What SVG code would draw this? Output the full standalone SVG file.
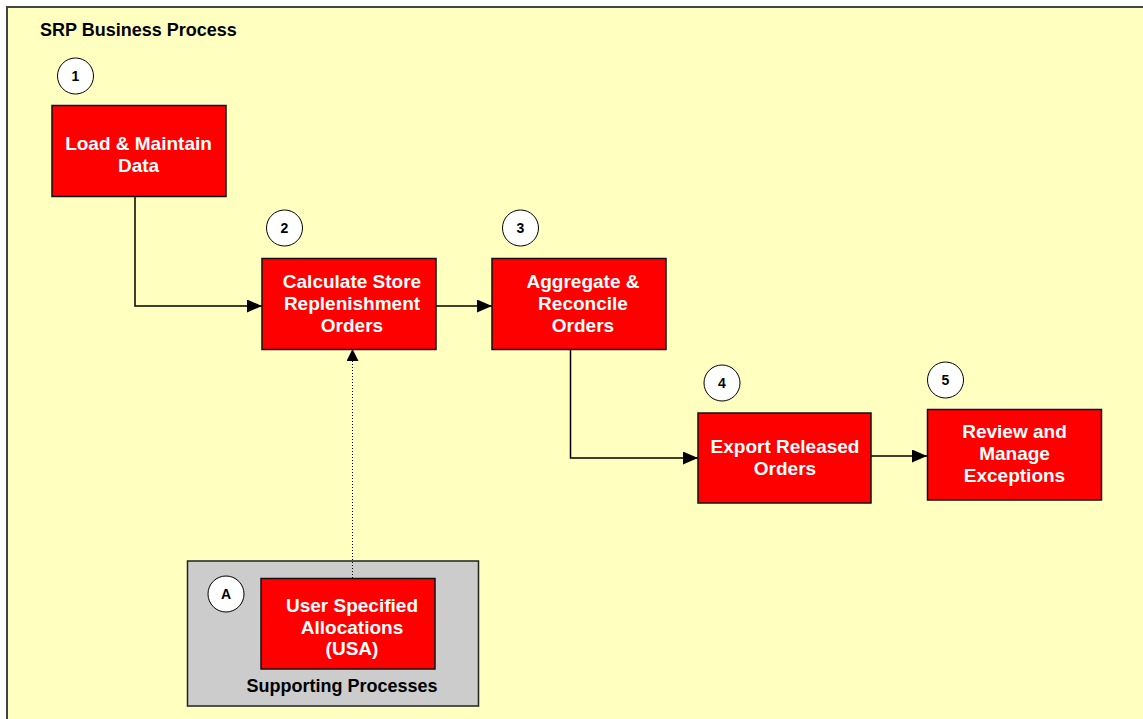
<svg xmlns="http://www.w3.org/2000/svg" width="1143" height="719" viewBox="0 0 1143 719">
<style>
.panel{fill:#FFFFC0;stroke:#444;stroke-width:2}
.box{fill:#FF0000;stroke:#111;stroke-width:1.5}
.sup{fill:#CCCCCC;stroke:#222;stroke-width:1.5}
.num{fill:#fff;stroke:#000;stroke-width:1}
.bt{font-family:"Liberation Sans",Arial,sans-serif;font-weight:bold;font-size:19px;fill:#fff;text-anchor:middle}
.nt{font-family:"Liberation Sans",Arial,sans-serif;font-weight:bold;font-size:14px;fill:#000;text-anchor:middle}
.tt{font-family:"Liberation Sans",Arial,sans-serif;font-weight:bold;font-size:18px;fill:#000}
.con{fill:none;stroke:#000;stroke-width:1.5}
.dot{fill:none;stroke:#000;stroke-width:1;stroke-dasharray:1,2}
</style>
<defs>
<marker id="ah" markerUnits="userSpaceOnUse" markerWidth="15" markerHeight="13" refX="15" refY="6.5" orient="auto">
<path d="M0,0 L15,6.5 L0,13 z" fill="#000"/>
</marker>
<marker id="ahs" markerUnits="userSpaceOnUse" markerWidth="12" markerHeight="12" refX="12" refY="6" orient="auto">
<path d="M0,0 L12,6 L0,12 z" fill="#000"/>
</marker>
</defs>
<rect x="0" y="0" width="1143" height="719" fill="#fff"/>
<rect class="panel" x="7" y="7" width="1150" height="730"/>
<text class="tt" x="40" y="36">SRP Business Process</text>

<g id="connectors">
<path class="con" d="M135,196 V306 H262" marker-end="url(#ah)"/>
<path class="con" d="M436,306 H492" marker-end="url(#ah)"/>
<path class="con" d="M570.5,349 V458 H698" marker-end="url(#ah)"/>
<path class="con" d="M871,456 H927" marker-end="url(#ah)"/>
</g>

<g id="supporting">
<rect class="sup" x="187.5" y="561" width="291" height="145"/>
<text class="tt" x="342" y="692" text-anchor="middle">Supporting Processes</text>
</g>

<g id="n1">
<circle class="num" cx="75.5" cy="76" r="18"/>
<text class="nt" x="75.5" y="81">1</text>
<rect class="box" x="52" y="105.5" width="174" height="91"/>
<text class="bt" x="138.5" y="150">Load &amp; Maintain</text>
<text class="bt" x="138.5" y="172">Data</text>
</g>

<g id="n2">
<circle class="num" cx="284.5" cy="228" r="18"/>
<text class="nt" x="284.5" y="233">2</text>
<rect class="box" x="262" y="258.5" width="174" height="91"/>
<text class="bt" x="352" y="288">Calculate Store</text>
<text class="bt" x="352" y="310">Replenishment</text>
<text class="bt" x="352" y="332">Orders</text>
</g>

<g id="n3">
<circle class="num" cx="520.5" cy="228" r="18"/>
<text class="nt" x="520.5" y="233">3</text>
<rect class="box" x="492" y="258.5" width="174" height="91"/>
<text class="bt" x="583" y="288">Aggregate &amp;</text>
<text class="bt" x="583" y="310">Reconcile</text>
<text class="bt" x="583" y="332">Orders</text>
</g>

<g id="n4">
<circle class="num" cx="722" cy="383" r="18"/>
<text class="nt" x="722" y="388">4</text>
<rect class="box" x="698" y="413" width="173" height="90"/>
<text class="bt" x="785" y="453">Export Released</text>
<text class="bt" x="785" y="475">Orders</text>
</g>

<g id="n5">
<circle class="num" cx="945.5" cy="380" r="18"/>
<text class="nt" x="945.5" y="385">5</text>
<rect class="box" x="927.5" y="409.5" width="174" height="90.5"/>
<text class="bt" x="1014.5" y="438">Review and</text>
<text class="bt" x="1014.5" y="460">Manage</text>
<text class="bt" x="1014.5" y="482">Exceptions</text>
</g>

<g id="nA">
<circle class="num" cx="226" cy="594" r="18"/>
<text class="nt" x="226" y="599">A</text>
<rect class="box" x="261" y="578.5" width="174" height="90.5"/>
<text class="bt" x="352" y="612">User Specified</text>
<text class="bt" x="352" y="634">Allocations</text>
<text class="bt" x="352" y="655">(USA)</text>
</g>

<g id="connectors-dotted">
<path class="dot" d="M352.5,578 V349" marker-end="url(#ahs)"/>
</g>
</svg>
